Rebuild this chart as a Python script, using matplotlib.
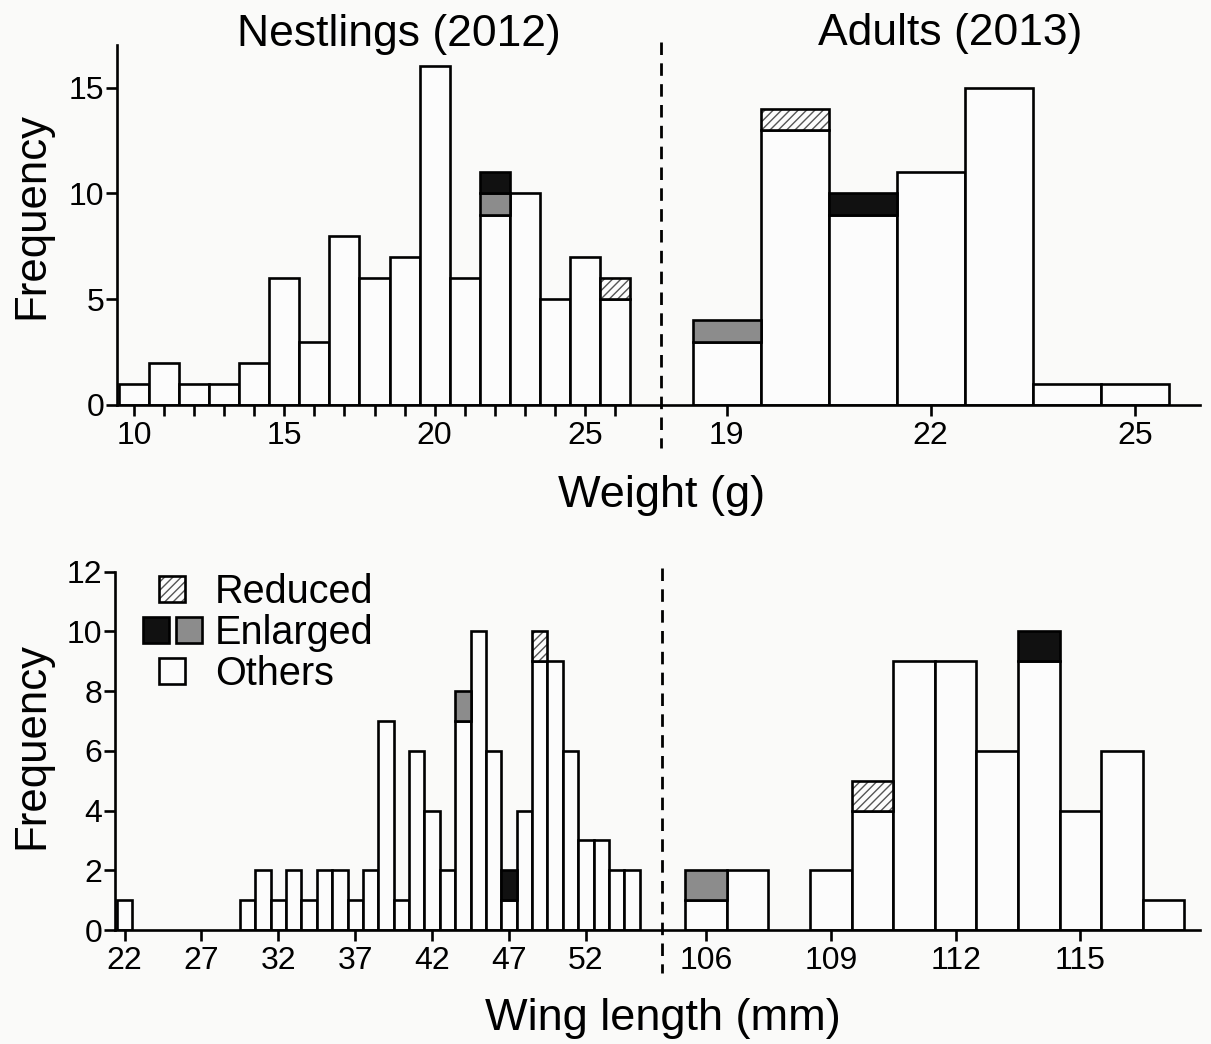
import matplotlib
matplotlib.use("Agg")
import matplotlib.pyplot as plt
import numpy as np
from matplotlib.patches import Rectangle
from matplotlib.legend_handler import HandlerBase
from matplotlib.lines import Line2D
from matplotlib.transforms import blended_transform_factory

plt.rcParams['font.family'] = ['Liberation Sans', 'DejaVu Sans']
plt.rcParams['hatch.linewidth'] = 1.0

# ---------------- data ----------------
# Weight, nestlings (2012)
nest_weight_bins = [10, 11, 12, 13, 14, 15, 16, 17, 18, 19, 20, 21, 22, 23, 24, 25, 26]
nest_weight_others = [1, 2, 1, 1, 2, 6, 3, 8, 6, 7, 16, 6, 9, 10, 5, 7, 5]
nest_weight_gray = [0, 0, 0, 0, 0, 0, 0, 0, 0, 0, 0, 0, 1, 0, 0, 0, 0]
nest_weight_black = [0, 0, 0, 0, 0, 0, 0, 0, 0, 0, 0, 0, 1, 0, 0, 0, 0]
nest_weight_reduced = [0, 0, 0, 0, 0, 0, 0, 0, 0, 0, 0, 0, 0, 0, 0, 0, 1]
nest_weight_ticks = list(range(10, 27))
nest_weight_ticklabels = ['10', '', '', '', '', '15', '', '', '', '', '20', '', '', '', '', '25', '']

# Weight, adults (2013)
adult_weight_bins = [19, 20, 21, 22, 23, 24, 25]
adult_weight_others = [3, 13, 9, 11, 15, 1, 1]
adult_weight_gray = [1, 0, 0, 0, 0, 0, 0]
adult_weight_black = [0, 0, 1, 0, 0, 0, 0]
adult_weight_reduced = [0, 1, 0, 0, 0, 0, 0]
adult_weight_ticks = [19, 22, 25]
adult_weight_ticklabels = ['19', '22', '25']

# Wing length, nestlings (2012)
nest_wing_bins = list(range(22, 56))
nest_wing_others = [1, 0, 0, 0, 0, 0, 0, 0, 1, 2, 1, 2, 1, 2, 2, 1, 2, 7, 1, 6,
                    4, 2, 7, 10, 6, 1, 4, 9, 9, 6, 3, 3, 2, 2]
nest_wing_gray = [0] * 22 + [1] + [0] * 11          # bin 44
nest_wing_black = [0] * 25 + [1] + [0] * 8          # bin 47
nest_wing_reduced = [0] * 27 + [1] + [0] * 6        # bin 49
nest_wing_ticks = [22, 27, 32, 37, 42, 47, 52]
nest_wing_ticklabels = ['22', '27', '32', '37', '42', '47', '52']

# Wing length, adults (2013)
adult_wing_bins = [106, 107, 108, 109, 110, 111, 112, 113, 114, 115, 116, 117]
adult_wing_others = [1, 2, 0, 2, 4, 9, 9, 6, 9, 4, 6, 1]
adult_wing_gray = [1, 0, 0, 0, 0, 0, 0, 0, 0, 0, 0, 0]
adult_wing_black = [0, 0, 0, 0, 0, 0, 0, 0, 1, 0, 0, 0]
adult_wing_reduced = [0, 0, 0, 0, 1, 0, 0, 0, 0, 0, 0, 0]
adult_wing_ticks = [106, 109, 112, 115]
adult_wing_ticklabels = ['106', '109', '112', '115']

weight_yticks = [0, 5, 10, 15]
wing_yticks = [0, 2, 4, 6, 8, 10, 12]

legend_labels = ['Reduced', 'Enlarged', 'Others']

# ---------------- style ----------------
W, H, DPI = 1211, 1044, 100
BG = '#fafaf9'
BAR_FC = '#fcfcfc'
GRAY = '#8c8c8c'
BLACK = '#111111'
HATCH_C = '#555555'
LW = 1.9
TICK_FS = 23
LABEL_FS = 31.5
XLABEL_FS = 32.5
TITLE_FS = 32
LEG_FS = 28.5

fig = plt.figure(figsize=(W / DPI, H / DPI), dpi=DPI, facecolor=BG)


def px_axes(left, top, right, bottom):
    ax = fig.add_axes([left / W, 1 - bottom / H, (right - left) / W, (bottom - top) / H])
    ax.set_facecolor('none')
    return ax


def draw_hist(ax, bins, others, gray, black, reduced):
    x = np.asarray(bins, float)
    bottom = np.zeros_like(x)
    for vals, fc in [(others, BAR_FC), (gray, GRAY), (black, BLACK)]:
        v = np.asarray(vals, float)
        m = v > 0
        if m.any():
            ax.bar(x[m], v[m], width=1.0, bottom=bottom[m], facecolor=fc,
                   edgecolor='black', linewidth=LW, zorder=2)
        bottom = bottom + v
    v = np.asarray(reduced, float)
    m = v > 0
    if m.any():
        ax.bar(x[m], v[m], width=1.0, bottom=bottom[m], facecolor=BAR_FC,
               edgecolor=HATCH_C, hatch='////', linewidth=0, zorder=2)
        ax.bar(x[m], v[m], width=1.0, bottom=bottom[m], fill=False,
               edgecolor='black', linewidth=LW, zorder=3)


def style_axis(ax, left_spine):
    for s in ['top', 'right']:
        ax.spines[s].set_visible(False)
    ax.spines['left'].set_visible(left_spine)
    for s in ['left', 'bottom']:
        ax.spines[s].set_linewidth(LW)
    ax.tick_params(axis='x', direction='out', length=8, width=LW,
                   labelsize=TICK_FS, pad=3.5)
    ax.tick_params(axis='y', direction='out', length=8, width=LW,
                   labelsize=TICK_FS, pad=1, left=left_spine, labelleft=left_spine)


# ---- top panels (weight) ----
ax_tl = px_axes(116.5, 45.2, 661, 405)
ax_tr = px_axes(661, 45.2, 1200, 405)
draw_hist(ax_tl, nest_weight_bins, nest_weight_others, nest_weight_gray,
          nest_weight_black, nest_weight_reduced)
draw_hist(ax_tr, adult_weight_bins, adult_weight_others, adult_weight_gray,
          adult_weight_black, adult_weight_reduced)
ax_tl.set_xlim(9.418, 27.53)
ax_tr.set_xlim(18.034, 25.96)
for ax in (ax_tl, ax_tr):
    ax.set_ylim(0, 17)
ax_tl.set_xticks(nest_weight_ticks, nest_weight_ticklabels)
ax_tr.set_xticks(adult_weight_ticks, adult_weight_ticklabels)
ax_tl.set_yticks(weight_yticks)
style_axis(ax_tl, True)
style_axis(ax_tr, False)

# ---- bottom panels (wing) ----
ax_bl = px_axes(115, 571.7, 662, 930)
ax_br = px_axes(662, 571.7, 1200, 930)
draw_hist(ax_bl, nest_wing_bins, nest_wing_others, nest_wing_gray,
          nest_wing_black, nest_wing_reduced)
draw_hist(ax_br, adult_wing_bins, adult_wing_others, adult_wing_gray,
          adult_wing_black, adult_wing_reduced)
ax_bl.set_xlim(21.38, 56.95)
ax_br.set_xlim(104.94, 117.875)
for ax in (ax_bl, ax_br):
    ax.set_ylim(0, 12)
ax_bl.set_xticks(nest_wing_ticks, nest_wing_ticklabels)
ax_br.set_xticks(adult_wing_ticks, adult_wing_ticklabels)
ax_bl.set_yticks(wing_yticks)
style_axis(ax_bl, True)
style_axis(ax_br, False)

# ---- y labels ----
for ax, yc in ((ax_tl, 0.526), (ax_bl, 0.516)):
    ax.set_ylabel('Frequency', fontsize=LABEL_FS)
    ax.yaxis.set_label_coords(52 / W, yc,
                              transform=blended_transform_factory(fig.transFigure, ax.transAxes))

# ---- titles and x labels ----
fig.text(399 / W, 1 - 46 / H, 'Nestlings (2012)', ha='center', va='baseline', fontsize=TITLE_FS)
fig.text(950.6 / W, 1 - 45 / H, 'Adults (2013)', ha='center', va='baseline', fontsize=TITLE_FS)
fig.text(661.3 / W, 1 - 507 / H, 'Weight (g)', ha='center', va='baseline', fontsize=XLABEL_FS)
fig.text(663.3 / W, 1 - 1030 / H, 'Wing length (mm)', ha='center', va='baseline', fontsize=XLABEL_FS)

# ---- dashed separators ----
for x, y0, y1 in [(661, 42, 448), (662, 568, 973)]:
    fig.add_artist(Line2D([x / W, x / W], [1 - y0 / H, 1 - y1 / H], transform=fig.transFigure,
                          color='black', linewidth=2.0, linestyle=(0, (4.5, 3.0))))


# ---- legend ----
class SquareHandler(HandlerBase):
    def create_artists(self, legend, orig_handle, xdescent, ydescent, width, height, fontsize, trans):
        s = height
        x0 = -xdescent + (width - s) / 2
        y0 = -ydescent
        arts = []
        if orig_handle.get_hatch():
            arts.append(Rectangle((x0, y0), s, s, facecolor=BAR_FC, edgecolor=HATCH_C,
                                  hatch=orig_handle.get_hatch(), linewidth=0, transform=trans))
            arts.append(Rectangle((x0, y0), s, s, fill=False, edgecolor='black',
                                  linewidth=LW, transform=trans))
        else:
            arts.append(Rectangle((x0, y0), s, s, facecolor=orig_handle.get_facecolor(),
                                  edgecolor='black', linewidth=LW, transform=trans))
        return arts


class PairHandler(HandlerBase):
    def create_artists(self, legend, orig_handle, xdescent, ydescent, width, height, fontsize, trans):
        s = height
        arts = []
        for i, h in enumerate(orig_handle):
            x0 = -xdescent + (0 if i == 0 else width - s)
            arts.append(Rectangle((x0, -ydescent), s, s, facecolor=h.get_facecolor(),
                                  edgecolor='black', linewidth=LW, transform=trans))
        return arts


h_red = Rectangle((0, 0), 1, 1, facecolor=BAR_FC, hatch='////')
h_black = Rectangle((0, 0), 1, 1, facecolor=BLACK)
h_gray = Rectangle((0, 0), 1, 1, facecolor=GRAY)
h_oth = Rectangle((0, 0), 1, 1, facecolor=BAR_FC)
pair = (h_black, h_gray)

ax_bl.legend([h_red, pair, h_oth], legend_labels,
             handler_map={Rectangle: SquareHandler(), tuple: PairHandler()},
             loc='upper left', bbox_to_anchor=(142.7 / W, 1 - 573 / H),
             bbox_transform=fig.transFigure, frameon=False, borderpad=0,
             borderaxespad=0, labelspacing=0.08, handletextpad=0.34,
             handlelength=1.49, handleheight=0.63, fontsize=LEG_FS)

fig.savefig('out.png', dpi=DPI, facecolor=BG)
